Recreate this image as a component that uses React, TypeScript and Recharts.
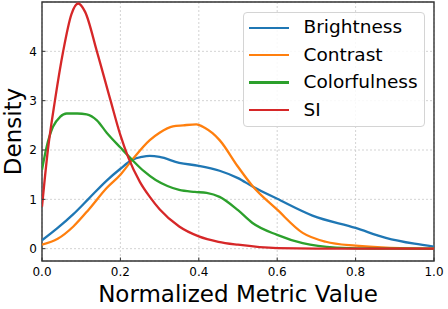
import { CartesianGrid, Legend, Line, LineChart, ReferenceArea, XAxis, YAxis } from "recharts";

const xTicks = [0, 0.2, 0.4, 0.6, 0.8, 1.0];
const yTicks = [0, 1, 2, 3, 4];
const xDomain = [0, 1];
const yDomain = [-0.25, 5];

const brightnessX = [0, 0.04, 0.08, 0.12, 0.165, 0.2, 0.23, 0.255, 0.275, 0.3, 0.35, 0.4, 0.453, 0.5, 0.537, 0.6, 0.69, 0.8, 0.877, 0.95, 1.0];
const brightnessY = [0.17, 0.42, 0.7, 1.02, 1.38, 1.62, 1.8, 1.86, 1.88, 1.86, 1.74, 1.68, 1.58, 1.43, 1.26, 1.01, 0.67, 0.42, 0.22, 0.1, 0.04];

const contrastX = [0, 0.04, 0.08, 0.12, 0.165, 0.2, 0.23, 0.275, 0.3, 0.334, 0.36, 0.394, 0.415, 0.435, 0.453, 0.5, 0.537, 0.6, 0.665, 0.724, 0.8, 0.877, 1.0];
const contrastY = [0.08, 0.2, 0.45, 0.8, 1.23, 1.5, 1.8, 2.2, 2.35, 2.48, 2.5, 2.52, 2.45, 2.34, 2.2, 1.66, 1.27, 0.79, 0.32, 0.14, 0.06, 0.02, 0.0];

const colorfulnessX = [0, 0.012, 0.028, 0.046, 0.063, 0.09, 0.114, 0.14, 0.165, 0.2, 0.23, 0.26, 0.29, 0.32, 0.35, 0.39, 0.42, 0.453, 0.5, 0.537, 0.6, 0.665, 0.75, 0.85, 1.0];
const colorfulnessY = [1.6, 2.07, 2.47, 2.67, 2.74, 2.74, 2.72, 2.6, 2.35, 2.05, 1.8, 1.57, 1.39, 1.27, 1.19, 1.15, 1.13, 1.05, 0.78, 0.52, 0.28, 0.11, 0.02, 0.0, 0.0];

const siX = [0, 0.015, 0.033, 0.054, 0.075, 0.092, 0.11, 0.14, 0.175, 0.2, 0.22, 0.25, 0.275, 0.3, 0.35, 0.4, 0.45, 0.5, 0.6, 0.7, 0.8, 1.0];
const siY = [0.85, 2.0, 3.0, 4.0, 4.75, 4.97, 4.8, 4.0, 3.0, 2.3, 1.85, 1.35, 1.05, 0.8, 0.45, 0.25, 0.14, 0.08, 0.01, 0.0, 0.0, 0.0];

const zip = (xs: number[], ys: number[]) => xs.map((x, i) => ({ x, y: ys[i] }));

const series = [
  { name: "Brightness", color: "#1f77b4", data: zip(brightnessX, brightnessY) },
  { name: "Contrast", color: "#ff7f0e", data: zip(contrastX, contrastY) },
  { name: "Colorfulness", color: "#2ca02c", data: zip(colorfulnessX, colorfulnessY) },
  { name: "SI", color: "#d62728", data: zip(siX, siY) },
];

const font = "'DejaVu Sans', sans-serif";
const frame = "#333";

function XTick({ x, y, payload }: any) {
  return (
    <g>
      <line x1={x} y1={y} x2={x} y2={y - 3.5} stroke={frame} strokeWidth={1} />
      <text x={x} y={y + 15} textAnchor="middle" fontSize={12} fontFamily={font} fill="#000">
        {Number(payload.value).toFixed(1)}
      </text>
    </g>
  );
}

function YTick({ x, y, payload }: any) {
  return (
    <g>
      <line x1={x} y1={y} x2={x + 3.5} y2={y} stroke={frame} strokeWidth={1} />
      <text x={x - 5} y={y + 4.3} textAnchor="end" fontSize={12} fontFamily={font} fill="#000">
        {payload.value}
      </text>
    </g>
  );
}

function YLabel({ viewBox }: any) {
  const cy = viewBox.y + viewBox.height / 2;
  return (
    <text x={21} y={cy} transform={`rotate(-90 21 ${cy})`} textAnchor="middle" fontSize={23} fontFamily={font} fill="#000">
      Density
    </text>
  );
}

// legend keeps the plotting order, not recharts' sorted payload
function LegendBox() {
  return (
    <div
      style={{
        width: 182,
        height: 115,
        boxSizing: "border-box",
        border: "1px solid #d4d4d4",
        borderRadius: 4,
        background: "rgba(255,255,255,0.85)",
        paddingTop: 1,
        fontFamily: font,
        fontSize: 18.5,
        color: "#000",
      }}
    >
      {series.map((s) => (
        <div key={s.name} style={{ height: 27.4, display: "flex", alignItems: "center" }}>
          <div style={{ marginLeft: 5, width: 40, height: 2.3, background: s.color }} />
          <span style={{ marginLeft: 14.5, lineHeight: 1 }}>{s.name}</span>
        </div>
      ))}
    </div>
  );
}

export default function App() {
  return (
    <div style={{ position: "absolute", left: 0, top: 0, width: 448, height: 309, background: "#fff" }}>
      <LineChart width={448} height={309} margin={{ top: 2, right: 14, bottom: 0, left: 0 }}>
        <CartesianGrid stroke="#c8c8c8" strokeDasharray="2 2" strokeWidth={0.8} />
        <XAxis
          dataKey="x"
          type="number"
          domain={xDomain}
          ticks={xTicks}
          allowDataOverflow
          height={48}
          tickSize={0}
          tickMargin={0}
          tickLine={false}
          tick={<XTick />}
          axisLine={false}
          label={{ value: "Normalized Metric Value", position: "insideBottom", offset: 7, fontSize: 23, fontFamily: font, fill: "#000" }}
        />
        <YAxis
          type="number"
          domain={yDomain}
          ticks={yTicks}
          allowDataOverflow
          width={42}
          tickSize={0}
          tickMargin={0}
          tickLine={false}
          tick={<YTick />}
          axisLine={false}
          label={{ content: <YLabel /> }}
        />
        <Legend layout="vertical" align="center" verticalAlign="middle" wrapperStyle={{ top: 12, left: 243, width: 182, height: 115 }} content={<LegendBox />} />
        {series.map((s) => (
          <Line
            key={s.name}
            data={s.data}
            dataKey="y"
            name={s.name}
            type="monotone"
            stroke={s.color}
            strokeWidth={2.3}
            dot={false}
            activeDot={false}
            isAnimationActive={false}
          />
        ))}
        <ReferenceArea x1={xDomain[0]} x2={xDomain[1]} y1={yDomain[0]} y2={yDomain[1]} fill="none" stroke={frame} strokeWidth={1.4} ifOverflow="visible" />
      </LineChart>
    </div>
  );
}
